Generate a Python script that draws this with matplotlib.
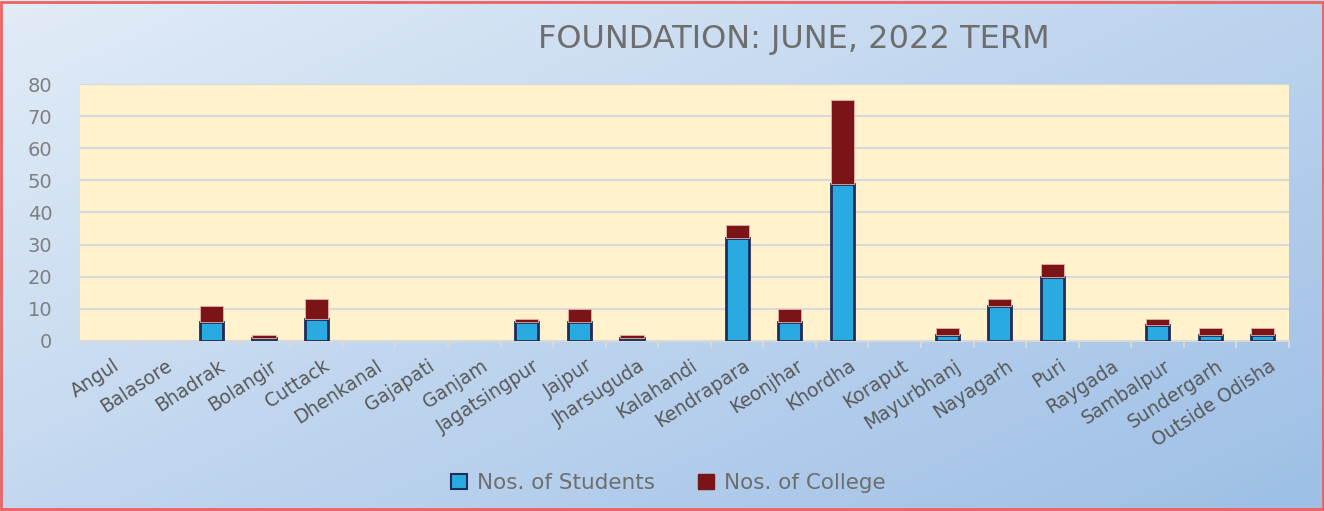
import matplotlib
matplotlib.use("Agg")
import matplotlib.pyplot as plt
import numpy as np
from matplotlib.patches import Rectangle, Patch

districts = ["Angul", "Balasore", "Bhadrak", "Bolangir", "Cuttack", "Dhenkanal",
             "Gajapati", "Ganjam", "Jagatsingpur", "Jajpur", "Jharsuguda",
             "Kalahandi", "Kendrapara", "Keonjhar", "Khordha", "Koraput",
             "Mayurbhanj", "Nayagarh", "Puri", "Raygada", "Sambalpur",
             "Sundergarh", "Outside Odisha"]
students = [0, 0, 6, 1, 7, 0, 0, 0, 6, 6, 1, 0, 32, 6, 49, 0, 2, 11, 20, 0, 5, 2, 2]
colleges = [0, 0, 5, 1, 6, 0, 0, 0, 1, 4, 1, 0, 4, 4, 26, 0, 2, 2, 4, 0, 2, 2, 2]

blue, blue_edge = "#29abe2", "#1f2d5a"
red, red_edge = "#7b1416", "#e8b0a8"

plt.rcParams['font.family'] = ['DejaVu Sans']

fig = plt.figure(figsize=(13.24, 5.11), dpi=100)

# gradient background for the whole chart area
bg = fig.add_axes([0, 0, 1, 1], zorder=0)
yy, xx = np.mgrid[0:1:200j, 0:1:400j]
t = (xx * 0.55 + yy * 0.45)
c0 = np.array([0xe2, 0xec, 0xf7]) / 255
c1 = np.array([0x9d, 0xbf, 0xe6]) / 255
img = c0[None, None, :] * (1 - t[..., None]) + c1[None, None, :] * t[..., None]
bg.imshow(img, aspect="auto", extent=[0, 1, 0, 1], origin="upper")
bg.add_patch(Rectangle((0.001, 0.003), 0.998, 0.993, fill=False,
                       edgecolor="#f06060", linewidth=2, transform=bg.transAxes))
bg.set_xlim(0, 1)
bg.set_ylim(0, 1)
bg.axis("off")

ax = fig.add_axes([0.0604, 0.3327, 0.9132, 0.5029], zorder=1)
ax.set_facecolor("#fff2cc")
x = np.arange(len(districts))
w = 0.44
bars_s = ax.bar(x, students, w, color=blue, edgecolor=blue_edge, linewidth=2, zorder=3)
bars_c = ax.bar(x, colleges, w, bottom=students, color=red, edgecolor=red_edge,
                linewidth=0.6, zorder=3)
# empty districts get no visible stub
for b in list(bars_s) + list(bars_c):
    if b.get_height() == 0:
        b.set_visible(False)

ax.set_xlim(-0.5, len(districts) - 0.5)
ax.set_ylim(0, 80)
ax.set_yticks(range(0, 81, 10))
ax.yaxis.grid(True, color="#d9d9d9", linewidth=1.5, zorder=0)
ax.set_axisbelow(True)
for s in ["top", "right", "left"]:
    ax.spines[s].set_visible(False)
ax.spines["bottom"].set_color("#d9d9d9")
ax.spines["bottom"].set_linewidth(1.5)
ax.tick_params(axis="y", length=0, labelsize=14, labelcolor="#7f7f7f", pad=20)
ax.set_xticks(x + 0.12)
ax.set_xticklabels(districts, rotation=33, ha="right", va="top",
                   rotation_mode="anchor", fontsize=13.5, color="#595959")
ax.tick_params(axis="x", which="major", length=0, pad=11)
ax.set_xticks(np.arange(-0.5, len(districts)), minor=True)
ax.tick_params(axis="x", which="minor", length=5, color="#d9d9d9", width=1.5)

fig.text(0.5997, 0.922, "FOUNDATION: JUNE, 2022 TERM", ha="center", va="center",
         fontsize=23, color="#6e6e6e")

handles = [Patch(facecolor=blue, edgecolor=blue_edge, linewidth=1.5),
           Patch(facecolor=red, edgecolor=red)]
leg = fig.legend(handles, ["Nos. of Students", "Nos. of College"], loc="center",
                 bbox_to_anchor=(0.5045, 0.055), ncol=2, frameon=False, fontsize=15.5,
                 handlelength=0.75, handleheight=0.75, handletextpad=0.45,
                 columnspacing=2.0)
for txt in leg.get_texts():
    txt.set_color("#6e6e6e")

fig.savefig("out.png", dpi=100)
